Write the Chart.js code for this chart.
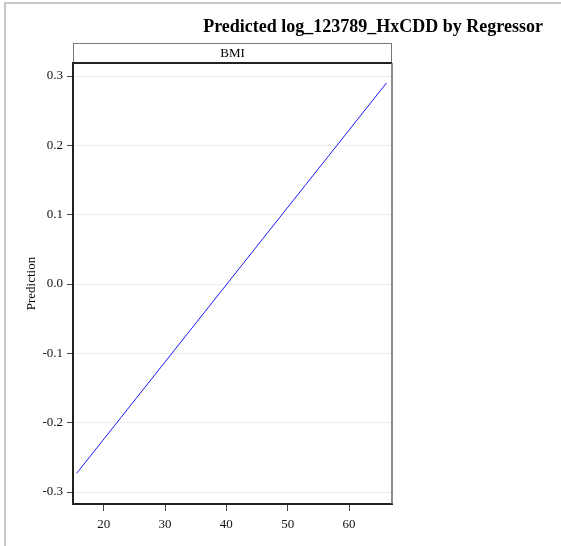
<!DOCTYPE html>
<html>
<head>
<meta charset="utf-8">
<script src="https://cdn.jsdelivr.net/npm/chart.js@4/dist/chart.umd.min.js"></script>
<style>
  html, body { margin: 0; padding: 0; background: #fff; }
  canvas { display: block; }
</style>
</head>
<body>
<canvas id="chart" width="561" height="546"></canvas>
<script>
// Fitted prediction line, endpoints
const bmi = [15.6, 66.1];
const prediction = [-0.273, 0.290];

const xTicks = [20, 30, 40, 50, 60];
const yTicks = [-0.3, -0.2, -0.1, 0.0, 0.1, 0.2, 0.3];

const chartTitle = "Predicted log_123789_HxCDD by Regressor";
const panelLabel = "BMI";
const yTitle = "Prediction";

const SERIF = "'Liberation Serif', 'DejaVu Serif', serif";

// Outer frame, panel strip, plot box and title
const decorations = {
  id: "decorations",
  beforeDraw(chart) {
    const { ctx } = chart;
    ctx.save();
    ctx.fillStyle = "#fff";
    ctx.fillRect(0, 0, chart.width, chart.height);
    ctx.strokeStyle = "#c8c8c8";
    ctx.lineWidth = 2;
    ctx.beginPath();
    ctx.moveTo(5, chart.height);
    ctx.lineTo(5, 3);
    ctx.lineTo(chart.width, 3);
    ctx.stroke();
    ctx.restore();
  },
  afterDraw(chart) {
    const { ctx, chartArea: a } = chart;
    ctx.save();

    // strip above the panel
    ctx.strokeStyle = "#777";
    ctx.lineWidth = 1;
    ctx.strokeRect(a.left + 0.5, 43.5, a.right - a.left - 1, 19);
    ctx.fillStyle = "#000";
    ctx.font = "13px " + SERIF;
    ctx.textAlign = "center";
    ctx.textBaseline = "middle";
    ctx.fillText(panelLabel, (a.left + a.right) / 2, 53.5);

    // top and right sides of the plot box
    ctx.strokeStyle = "#222";
    ctx.lineWidth = 2;
    ctx.beginPath();
    ctx.moveTo(a.left, a.top);
    ctx.lineTo(a.right, a.top);
    ctx.stroke();
    ctx.strokeStyle = "#666";
    ctx.lineWidth = 1.5;
    ctx.beginPath();
    ctx.moveTo(a.right, a.top);
    ctx.lineTo(a.right, a.bottom);
    ctx.stroke();

    // title
    ctx.fillStyle = "#000";
    ctx.font = "bold 18px " + SERIF;
    ctx.textAlign = "right";
    ctx.textBaseline = "middle";
    ctx.fillText(chartTitle, 543, 27);
    ctx.restore();
  },
};

new Chart(document.getElementById("chart"), {
  type: "scatter",
  data: {
    datasets: [
      {
        data: bmi.map((x, i) => ({ x, y: prediction[i] })),
        showLine: true,
        borderColor: "#1a1aff",
        borderWidth: 1,
        pointRadius: 0,
        fill: false,
      },
    ],
  },
  options: {
    responsive: false,
    animation: false,
    layout: { padding: { left: 0, top: 63, right: 169, bottom: 0 } },
    plugins: {
      legend: { display: false },
      tooltip: { enabled: false },
    },
    scales: {
      x: {
        type: "linear",
        min: 15,
        max: 67,
        afterBuildTicks: (s) => { s.ticks = xTicks.map((v) => ({ value: v })); },
        afterFit: (s) => { s.height = 42; },
        border: { color: "#222", width: 2 },
        grid: { drawOnChartArea: false, tickColor: "#444", tickLength: 7 },
        ticks: {
          color: "#111",
          padding: 6,
          maxRotation: 0,
          font: { family: SERIF, size: 13 },
          callback: (v) => String(v),
        },
      },
      y: {
        type: "linear",
        min: -0.3173,
        max: 0.3188,
        afterBuildTicks: (s) => { s.ticks = yTicks.map((v) => ({ value: v })); },
        afterFit: (s) => { s.width = 73; },
        border: { color: "#222", width: 2 },
        grid: { color: "#ececec", tickColor: "#444", tickLength: 6 },
        ticks: {
          color: "#111",
          padding: 4,
          font: { family: SERIF, size: 13 },
          callback: (v) => v.toFixed(1),
        },
        title: {
          display: true,
          text: yTitle,
          color: "#000",
          font: { family: SERIF, size: 13 },
          padding: { top: 24, bottom: 0 },
        },
      },
    },
  },
  plugins: [decorations],
});
</script>
</body>
</html>
